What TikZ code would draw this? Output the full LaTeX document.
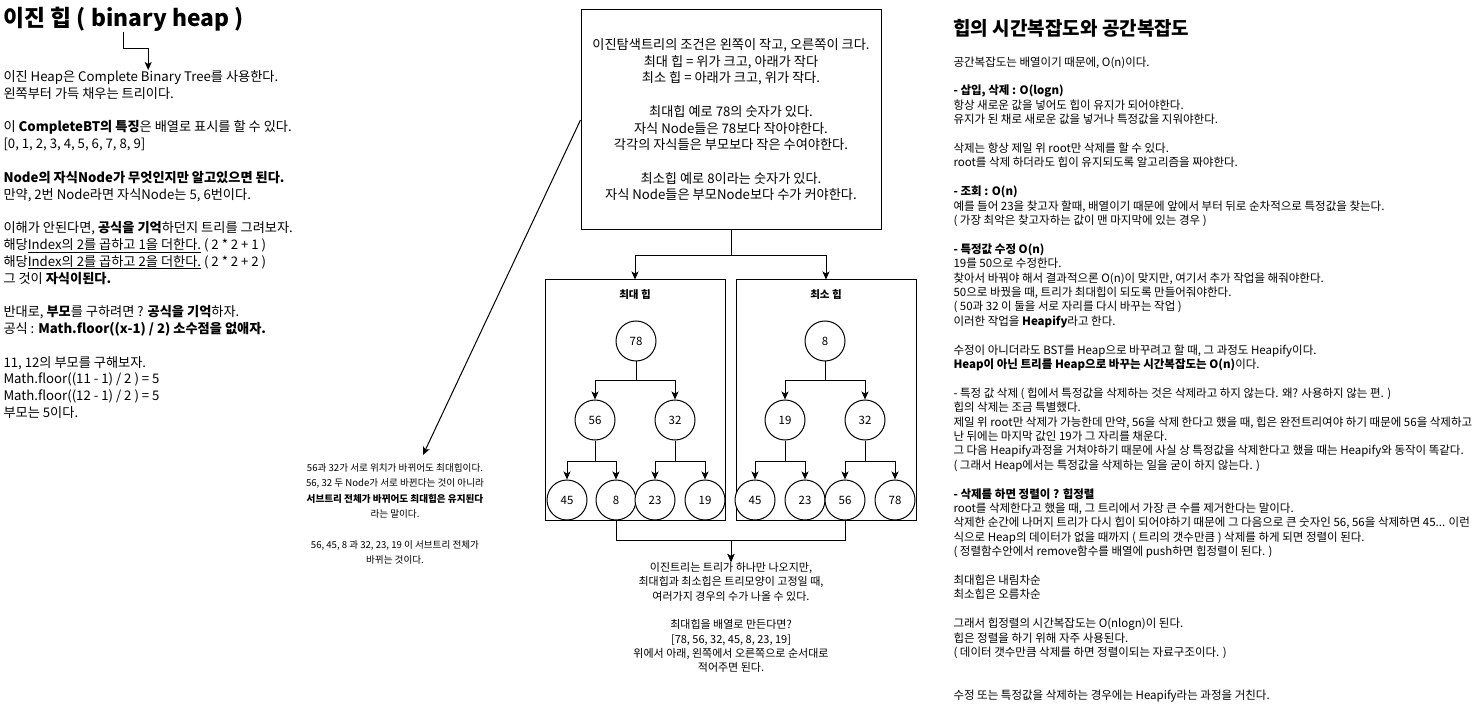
\documentclass[tikz,border=0pt]{standalone}
\usepackage{fontspec}
\setmainfont{Noto Sans CJK KR}
\usetikzlibrary{arrows.meta}

\begin{document}
\begin{tikzpicture}[x=1pt, y=-1pt, line width=1pt,
    arr/.style={-{Stealth[length=8pt, width=7pt, inset=2pt]}},
    heap/.style={circle, draw, fill=white, minimum size=40pt, inner sep=0pt, font=\fontsize{11.5}{14}\selectfont},
    panel/.style={draw, minimum width=180pt, minimum height=240pt},
    memo/.style={inner sep=0pt, align=left, font=\fontsize{11.5}{14.4}\selectfont}]
    \useasboundingbox (0,0) rectangle (1481,711);

    \node[anchor=west, inner sep=0pt, font=\bfseries\fontsize{22.8}{26}\selectfont] (title) at (3,19) {이진 힙 ( binary heap )};
    \node[anchor=north west, inner sep=0pt, align=left, font=\fontsize{13.2}{16.8}\selectfont] (lefttext) at (3,70) {이진 Heap은 Complete Binary Tree를 사용한다.\\
        왼쪽부터 가득 채우는 트리이다.\\[16.8pt]
        이 \textbf{CompleteBT의 특징}은 배열로 표시를 할 수 있다.\\
        {[}0, 1, 2, 3, 4, 5, 6, 7, 8, 9{]}\\[16.8pt]
        \textbf{Node의 자식Node가 무엇인지만 알고있으면 된다.}\\
        만약, 2번 Node라면 자식Node는 5, 6번이다.\\[16.8pt]
        이해가 안된다면, \textbf{공식을 기억}하던지 트리를 그려보자.\\
        해당\underline{Index의 2를 곱하고 1을 더한다.} ( 2 * 2 + 1 )\\
        해당\underline{Index의 2를 곱하고 2을 더한다.} ( 2 * 2 + 2 )\\
        그 것이 \textbf{자식이된다.}\\[16.8pt]
        반대로, \textbf{부모}를 구하려면 ? \textbf{공식을 기억}하자.\\
        공식 : \textbf{Math.floor((x-1) / 2) 소수점을 없애자.}\\[16.8pt]
        11, 12의 부모를 구해보자.\\
        Math.floor((11 - 1) / 2 ) = 5\\
        Math.floor((12 - 1) / 2 ) = 5\\
        부모는 5이다.};
    \draw[arr] (title.south) -- ++(0,17) -| (lefttext.north);

    \node[draw, minimum width=300pt, minimum height=220pt, align=center, font=\fontsize{13.2}{16.3}\selectfont] (mainbox) at (731,120) {이진탐색트리의 조건은 왼쪽이 작고, 오른쪽이 크다.\\
        최대 힙 = 위가 크고, 아래가 작다\\
        최소 힙 = 아래가 크고, 위가 작다.\\[18pt]
        최대힙 예로 78의 숫자가 있다.\\
        자식 Node들은 78보다 작아야한다.\\
        각각의 자식들은 부모보다 작은 수여야한다.\\[18pt]
        최소힙 예로 8이라는 숫자가 있다.\\
        자식 Node들은 부모Node보다 수가 커야한다.};

    \node[panel] (maxbox) at (635,400) {};
    \node[panel] (minbox) at (826,400) {};
    \node[font=\bfseries\fontsize{10.5}{13}\selectfont] (maxtitle) at (635,295) {최대 힙};
    \node[font=\bfseries\fontsize{10.5}{13}\selectfont] (mintitle) at (826,295) {최소 힙};
    \draw[arr] (mainbox.south) -- ++(0,25) -| (maxbox.north);
    \draw[arr] (mainbox.south) -- ++(0,25) -| (minbox.north);

    \node[heap] (a78) at (636,341) {78};
    \node[heap] (a56) at (595,420) {56};
    \node[heap] (a32) at (675,420) {32};
    \node[heap] (a45) at (567,500) {45};
    \node[heap] (a8) at (616,500) {8};
    \node[heap] (a23) at (655,500) {23};
    \node[heap] (a19) at (705,500) {19};
    \draw[arr] (a78.south) -- ++(0,19) -| (a56.north);
    \draw[arr] (a78.south) -- ++(0,19) -| (a32.north);
    \draw[arr] (a56.south) -- ++(0,21) -| (a45.north);
    \draw[arr] (a56.south) -- ++(0,21) -| (a8.north);
    \draw[arr] (a32.south) -- ++(0,21) -| (a23.north);
    \draw[arr] (a32.south) -- ++(0,21) -| (a19.north);

    \node[heap] (b8) at (825,341) {8};
    \node[heap] (b19) at (785,420) {19};
    \node[heap] (b32) at (865,420) {32};
    \node[heap] (b45) at (755,500) {45};
    \node[heap] (b23) at (805,500) {23};
    \node[heap] (b56) at (845,500) {56};
    \node[heap] (b78) at (895,500) {78};
    \draw[arr] (b8.south) -- ++(0,19) -| (b19.north);
    \draw[arr] (b8.south) -- ++(0,19) -| (b32.north);
    \draw[arr] (b19.south) -- ++(0,21) -| (b45.north);
    \draw[arr] (b19.south) -- ++(0,21) -| (b23.north);
    \draw[arr] (b32.south) -- ++(0,21) -| (b56.north);
    \draw[arr] (b32.south) -- ++(0,21) -| (b78.north);

    \node[anchor=north, inner sep=0pt, align=center, font=\fontsize{11}{14.3}\selectfont] (bottomtext) at (731,562) {이진트리는 트리가 하나만 나오지만,\\
        최대힙과 최소힙은 트리모양이 고정일 때,\\
        여러가지 경우의 수가 나올 수 있다.\\[14.3pt]
        최대힙을 배열로 만든다면?\\
        {[}78, 56, 32, 45, 8, 23, 19{]}\\
        위에서 아래, 왼쪽에서 오른쪽으로 순서대로\\
        적어주면 된다.};
    \draw[arr] (a8.south) -- ++(0,20) -| (bottomtext.north);
    \draw[arr] (b56.south) -- ++(0,20) -| (bottomtext.north);

    \node[anchor=north, inner sep=0pt, align=center, font=\fontsize{9.6}{15.4}\selectfont] (midtext) at (395,463) {56과 32가 서로 위치가 바뀌어도 최대힙이다.\\
        56, 32 두 Node가 서로 바뀐다는 것이 아니라\\
        \textbf{서브트리 전체가 바뀌어도 최대힙은 유지된다}\\
        라는 말이다.\\[15.4pt]
        56, 45, 8 과 32, 23, 19 이 서브트리 전체가\\
        바뀌는 것이다.};
    \coordinate (tip) at (423,455);
    \draw[arr] (mainbox.west) -- (tip);

    \node[anchor=west, inner sep=0pt, font=\bfseries\fontsize{19}{22}\selectfont] (rtitle) at (953,28) {힙의 시간복잡도와 공간복잡도};
    \node[memo, anchor=north west] (righttext) at (953,56) {공간복잡도는 배열이기 때문에, O(n)이다.\\[14.4pt]
        \textbf{- 삽입, 삭제 : O(logn)}\\
        항상 새로운 값을 넣어도 힙이 유지가 되어야한다.\\
        유지가 된 채로 새로운 값을 넣거나 특정값을 지워야한다.\\[14.4pt]
        삭제는 항상 제일 위 root만 삭제를 할 수 있다.\\
        root를 삭제 하더라도 힙이 유지되도록 알고리즘을 짜야한다.\\[14.4pt]
        \textbf{- 조회 : O(n)}\\
        예를 들어 23을 찾고자 할때, 배열이기 때문에 앞에서 부터 뒤로 순차적으로 특정값을 찾는다.\\
        ( 가장 최악은 찾고자하는 값이 맨 마지막에 있는 경우 )\\[14.4pt]
        \textbf{- 특정값 수정 O(n)}\\
        19를 50으로 수정한다.\\
        찾아서 바꿔야 해서 결과적으론 O(n)이 맞지만, 여기서 추가 작업을 해줘야한다.\\
        50으로 바꿨을 때, 트리가 최대힙이 되도록 만들어줘야한다.\\
        ( 50과 32 이 둘을 서로 자리를 다시 바꾸는 작업 )\\
        이러한 작업을 \textbf{Heapify}라고 한다.\\[14.4pt]
        수정이 아니더라도 BST를 Heap으로 바꾸려고 할 때, 그 과정도 Heapify이다.\\
        \textbf{Heap이 아닌 트리를 Heap으로 바꾸는 시간복잡도는 O(n)}이다.\\[14.4pt]
        - 특정 값 삭제 ( 힙에서 특정값을 삭제하는 것은 삭제라고 하지 않는다. 왜? 사용하지 않는 편. )\\
        힙의 삭제는 조금 특별했다.\\
        제일 위 root만 삭제가 가능한데 만약, 56을 삭제 한다고 했을 때, 힙은 완전트리여야 하기 때문에 56을 삭제하고\\
        난 뒤에는 마지막 값인 19가 그 자리를 채운다.\\
        그 다음 Heapify과정을 거쳐야하기 때문에 사실 상 특정값을 삭제한다고 했을 때는 Heapify와 동작이 똑같다.\\
        ( 그래서 Heap에서는 특정값을 삭제하는 일을 굳이 하지 않는다. )\\[14.4pt]
        \textbf{- 삭제를 하면 정렬이 ? 힙정렬}\\
        root를 삭제한다고 했을 때, 그 트리에서 가장 큰 수를 제거한다는 말이다.\\
        삭제한 순간에 나머지 트리가 다시 힙이 되어야하기 때문에 그 다음으로 큰 숫자인 56, 56을 삭제하면 45... 이런\\
        식으로 Heap의 데이터가 없을 때까지 ( 트리의 갯수만큼 ) 삭제를 하게 되면 정렬이 된다.\\
        ( 정렬함수안에서 remove함수를 배열에 push하면 힙정렬이 된다. )\\[14.4pt]
        최대힙은 내림차순\\
        최소힙은 오름차순\\[14.4pt]
        그래서 힙정렬의 시간복잡도는 O(nlogn)이 된다.\\
        힙은 정렬을 하기 위해 자주 사용된다.\\
        ( 데이터 갯수만큼 삭제를 하면 정렬이되는 자료구조이다. )\\[28.8pt]
        수정 또는 특정값을 삭제하는 경우에는 Heapify라는 과정을 거친다.};
\end{tikzpicture}
\end{document}
